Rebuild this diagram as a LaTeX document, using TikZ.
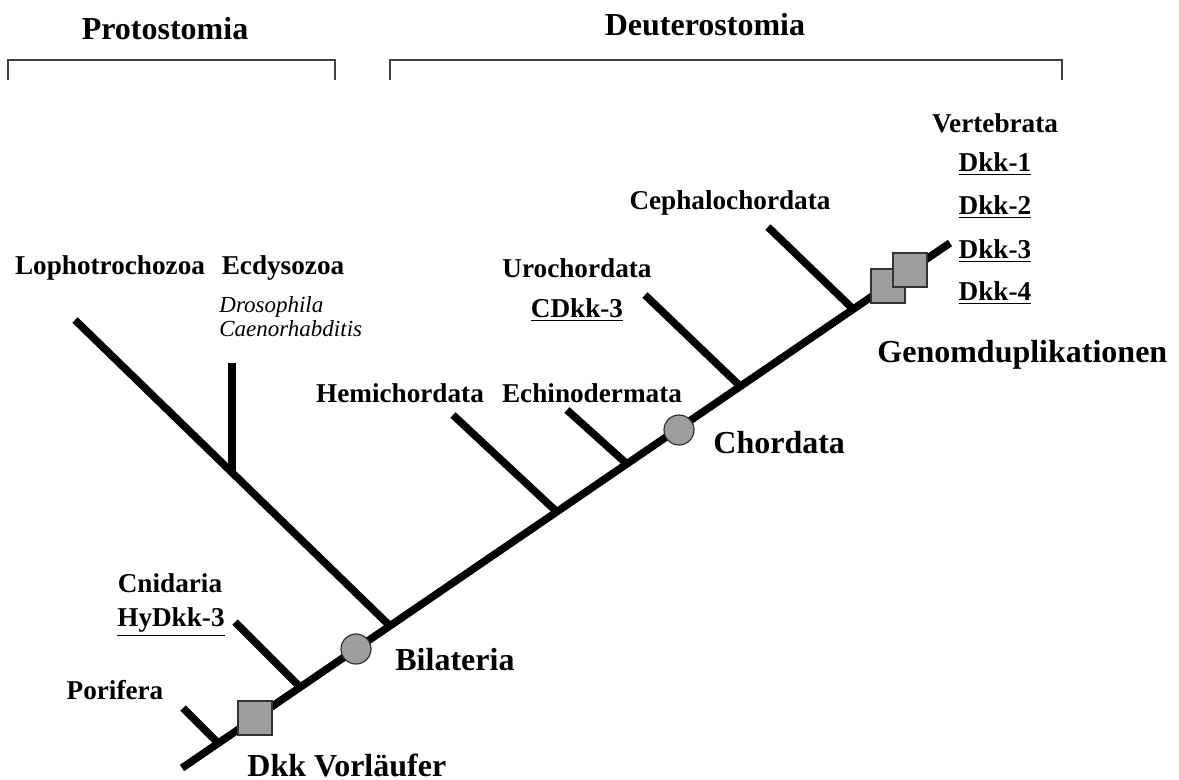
\documentclass[tikz,border=0pt]{standalone}
\usepackage{fontspec}
\setmainfont{Liberation Serif}
\tikzset{
  branch/.style={line width=3.8pt},
  taxon/.style={font=\fontsize{13.6}{15}\selectfont\bfseries, inner sep=0pt},
  event/.style={font=\fontsize{16}{18}\selectfont\bfseries, inner sep=0pt},
  genus/.style={font=\fontsize{11.5}{13}\selectfont\itshape, inner sep=0pt, anchor=west},
  ancestor/.style={circle, draw=black!80, line width=0.6pt, fill=black!38, minimum size=15pt, inner sep=0pt},
  dupbox/.style={rectangle, draw=black!80, line width=0.6pt, fill=black!38, minimum size=17pt, inner sep=0pt},
  clade/.style={draw=black!75, line width=0.8pt}
}
\begin{document}
\begin{tikzpicture}[x=0.5pt,y=-0.5pt]
  \useasboundingbox (0,0) rectangle (1179,780);
  % header brackets
  \node[event, anchor=base] (proto) at (165,40) {Protostomia};
  \node[event, anchor=base] (deutero) at (705,36) {Deuterostomia};
  \draw[clade] (8,80) -- (8,60) -- (335,60) -- (335,80);
  \draw[clade] (390,80) -- (390,60) -- (1062,60) -- (1062,80);
  % trunk and side branches
  \coordinate (root) at (182,768);
  \coordinate (top) at (950,243);
  \coordinate (jpor) at (218,743);
  \coordinate (jcni) at (300,687);
  \coordinate (jbil) at (390,626);
  \coordinate (jhem) at (557,512);
  \coordinate (jech) at (627,464);
  \coordinate (juro) at (740,386);
  \coordinate (jcep) at (853,309);
  \coordinate (jecd) at (232,472);
  \coordinate (tpor) at (183,708);
  \coordinate (tcni) at (235,622);
  \coordinate (tlop) at (75,320);
  \coordinate (tecd) at (232,363);
  \coordinate (themi) at (453,415);
  \coordinate (tech) at (567,410);
  \coordinate (turo) at (645,295);
  \coordinate (tcep) at (768,227);
  \draw[branch] (root) -- (top);
  \draw[branch] (tpor) -- (jpor);
  \draw[branch] (tcni) -- (jcni);
  \draw[branch] (tlop) -- (jbil);
  \draw[branch] (tecd) -- (jecd);
  \draw[branch] (themi) -- (jhem);
  \draw[branch] (tech) -- (jech);
  \draw[branch] (turo) -- (juro);
  \draw[branch] (tcep) -- (jcep);
  % events on the trunk
  \node[dupbox] (vorl) at (255,718) {};
  \node[ancestor] (bilat) at (356,649) {};
  \node[ancestor] (chord) at (679,430) {};
  \node[dupbox] (dup1) at (888,286) {};
  \node[dupbox] (dup2) at (910,270) {};
  % labels
  \node[taxon] (porifera) at (115,690) {Porifera};
  \node[taxon] (cnidaria) at (170,583) {Cnidaria};
  \node[taxon] (hydkk) at (171,622) {\underline{HyDkk-3}};
  \node[taxon] (lopho) at (110,268) {Lophotrochozoa};
  \node[taxon] (ecdy) at (283,268) {Ecdysozoa};
  \node[genus] (droso) at (219,307) {Drosophila};
  \node[genus] (caeno) at (219,329) {Caenorhabditis};
  \node[taxon] (hemi) at (400,393) {Hemichordata};
  \node[taxon] (echino) at (592,393) {Echinodermata};
  \node[taxon] (uro) at (577,268) {Urochordata};
  \node[taxon] (cdkk) at (577,310) {\underline{CDkk-3}};
  \node[taxon] (cepha) at (730,203) {Cephalochordata};
  \node[taxon] (verte) at (995,123) {Vertebrata};
  \node[taxon] (dkka) at (995,164) {\underline{Dkk-1}};
  \node[taxon] (dkkb) at (995,207) {\underline{Dkk-2}};
  \node[taxon] (dkkc) at (995,251) {\underline{Dkk-3}};
  \node[taxon] (dkkd) at (995,293) {\underline{Dkk-4}};
  \node[event, anchor=west] (bilab) at (395,660) {Bilateria};
  \node[event, anchor=west] (chordl) at (713,443) {Chordata};
  \node[event, anchor=west] (genom) at (877,355) {Genomduplikationen};
  \node[event, anchor=base west] (vorlab) at (247,776) {Dkk Vorläufer};
\end{tikzpicture}
\end{document}
